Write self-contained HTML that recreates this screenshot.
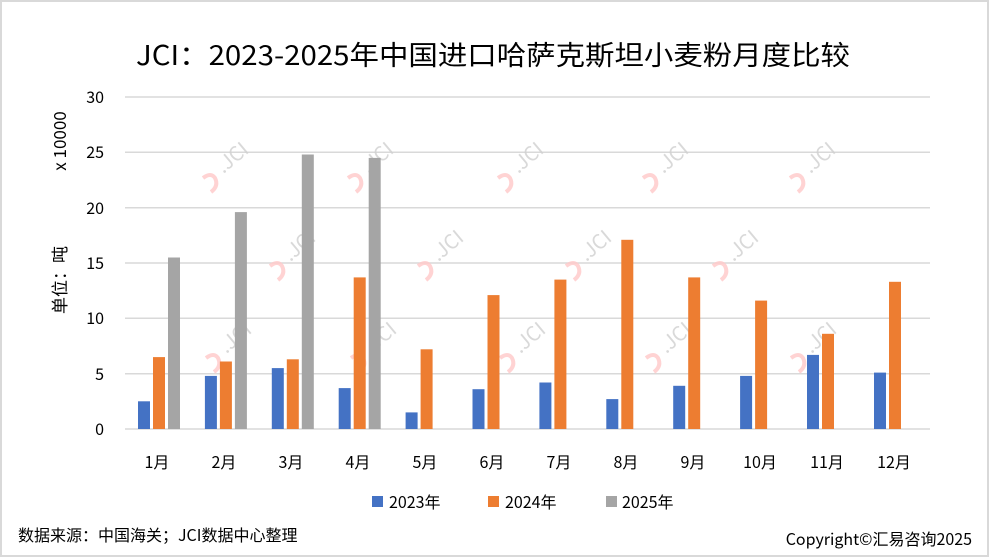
<!DOCTYPE html>
<html><head><meta charset="utf-8"><style>
html,body{margin:0;padding:0;background:#fff}
svg{display:block;font-family:"Noto Sans CJK SC","Liberation Sans",sans-serif}
</style></head><body>
<svg width="990" height="558" viewBox="0 0 990 558" xmlns="http://www.w3.org/2000/svg">
<rect x="1" y="1" width="987" height="555" fill="#fff" stroke="#d9d9d9" stroke-width="2"/>
<text x="493" y="65" font-size="27" text-anchor="middle" textLength="714" lengthAdjust="spacingAndGlyphs" fill="#000">JCI：2023-2025年中国进口哈萨克斯坦小麦粉月度比较</text>
<g stroke="#d9d9d9" stroke-width="1.5">
<line x1="125" x2="930" y1="97" y2="97"/><line x1="125" x2="930" y1="152.3" y2="152.3"/>
<line x1="125" x2="930" y1="207.7" y2="207.7"/><line x1="125" x2="930" y1="263" y2="263"/>
<line x1="125" x2="930" y1="318.3" y2="318.3"/><line x1="125" x2="930" y1="373.7" y2="373.7"/>
<line x1="125" x2="930" y1="429" y2="429"/>
</g>
<g font-size="16" fill="#000" text-anchor="end">
<text x="104" y="103">30</text><text x="104" y="158">25</text><text x="104" y="214">20</text>
<text x="104" y="269">15</text><text x="104" y="324">10</text><text x="104" y="380">5</text><text x="104" y="435">0</text>
</g>
<text transform="translate(66,141) rotate(-90)" font-size="17" text-anchor="middle">x 10000</text>
<text transform="translate(66,280) rotate(-90)" font-size="17" text-anchor="middle">单位：吨</text>
<g opacity="0.8">
<g transform="translate(225,170)"><path d="M-22,8 q8,-6 12,0 q4,8 -4,14" stroke="#ffc9c9" stroke-width="4" fill="none"/><text transform="rotate(-40)" x="-4" y="2" font-size="20" fill="#d0d0d0">.JCI</text></g>
<g transform="translate(370,170)"><path d="M-22,8 q8,-6 12,0 q4,8 -4,14" stroke="#ffc9c9" stroke-width="4" fill="none"/><text transform="rotate(-40)" x="-4" y="2" font-size="20" fill="#d0d0d0">.JCI</text></g>
<g transform="translate(520,170)"><path d="M-22,8 q8,-6 12,0 q4,8 -4,14" stroke="#ffc9c9" stroke-width="4" fill="none"/><text transform="rotate(-40)" x="-4" y="2" font-size="20" fill="#d0d0d0">.JCI</text></g>
<g transform="translate(665,170)"><path d="M-22,8 q8,-6 12,0 q4,8 -4,14" stroke="#ffc9c9" stroke-width="4" fill="none"/><text transform="rotate(-40)" x="-4" y="2" font-size="20" fill="#d0d0d0">.JCI</text></g>
<g transform="translate(812,170)"><path d="M-22,8 q8,-6 12,0 q4,8 -4,14" stroke="#ffc9c9" stroke-width="4" fill="none"/><text transform="rotate(-40)" x="-4" y="2" font-size="20" fill="#d0d0d0">.JCI</text></g>
<g transform="translate(292,258)"><path d="M-22,8 q8,-6 12,0 q4,8 -4,14" stroke="#ffc9c9" stroke-width="4" fill="none"/><text transform="rotate(-40)" x="-4" y="2" font-size="20" fill="#d0d0d0">.JCI</text></g>
<g transform="translate(440,258)"><path d="M-22,8 q8,-6 12,0 q4,8 -4,14" stroke="#ffc9c9" stroke-width="4" fill="none"/><text transform="rotate(-40)" x="-4" y="2" font-size="20" fill="#d0d0d0">.JCI</text></g>
<g transform="translate(588,258)"><path d="M-22,8 q8,-6 12,0 q4,8 -4,14" stroke="#ffc9c9" stroke-width="4" fill="none"/><text transform="rotate(-40)" x="-4" y="2" font-size="20" fill="#d0d0d0">.JCI</text></g>
<g transform="translate(735,258)"><path d="M-22,8 q8,-6 12,0 q4,8 -4,14" stroke="#ffc9c9" stroke-width="4" fill="none"/><text transform="rotate(-40)" x="-4" y="2" font-size="20" fill="#d0d0d0">.JCI</text></g>
<g transform="translate(228,350)"><path d="M-22,8 q8,-6 12,0 q4,8 -4,14" stroke="#ffc9c9" stroke-width="4" fill="none"/><text transform="rotate(-40)" x="-4" y="2" font-size="20" fill="#d0d0d0">.JCI</text></g>
<g transform="translate(373,350)"><path d="M-22,8 q8,-6 12,0 q4,8 -4,14" stroke="#ffc9c9" stroke-width="4" fill="none"/><text transform="rotate(-40)" x="-4" y="2" font-size="20" fill="#d0d0d0">.JCI</text></g>
<g transform="translate(522,350)"><path d="M-22,8 q8,-6 12,0 q4,8 -4,14" stroke="#ffc9c9" stroke-width="4" fill="none"/><text transform="rotate(-40)" x="-4" y="2" font-size="20" fill="#d0d0d0">.JCI</text></g>
<g transform="translate(668,350)"><path d="M-22,8 q8,-6 12,0 q4,8 -4,14" stroke="#ffc9c9" stroke-width="4" fill="none"/><text transform="rotate(-40)" x="-4" y="2" font-size="20" fill="#d0d0d0">.JCI</text></g>
<g transform="translate(813,350)"><path d="M-22,8 q8,-6 12,0 q4,8 -4,14" stroke="#ffc9c9" stroke-width="4" fill="none"/><text transform="rotate(-40)" x="-4" y="2" font-size="20" fill="#d0d0d0">.JCI</text></g>
</g>
<g fill="#4472c4">
<rect x="138" y="401.3" width="12" height="27.7"/>
<rect x="204.9" y="375.9" width="12" height="53.1"/>
<rect x="271.8" y="368.1" width="12" height="60.9"/>
<rect x="338.7" y="388.1" width="12" height="40.9"/>
<rect x="405.6" y="412.4" width="12" height="16.6"/>
<rect x="472.5" y="389.2" width="12" height="39.8"/>
<rect x="539.4" y="382.5" width="12" height="46.5"/>
<rect x="606.3" y="399.1" width="12" height="29.9"/>
<rect x="673.2" y="385.8" width="12" height="43.2"/>
<rect x="740.1" y="375.9" width="12" height="53.1"/>
<rect x="807" y="354.9" width="12" height="74.1"/>
<rect x="874" y="372.6" width="12" height="56.4"/>
</g>
<g fill="#ed7d31">
<rect x="153" y="357.1" width="12" height="71.9"/>
<rect x="219.9" y="361.5" width="12" height="67.5"/>
<rect x="286.8" y="359.3" width="12" height="69.7"/>
<rect x="353.7" y="277.4" width="12" height="151.6"/>
<rect x="420.6" y="349.3" width="12" height="79.7"/>
<rect x="487.5" y="295.1" width="12" height="133.9"/>
<rect x="554.4" y="279.6" width="12" height="149.4"/>
<rect x="621.3" y="239.8" width="12" height="189.2"/>
<rect x="688.2" y="277.4" width="12" height="151.6"/>
<rect x="755.1" y="300.6" width="12" height="128.4"/>
<rect x="822" y="333.8" width="12" height="95.2"/>
<rect x="889" y="281.8" width="12" height="147.2"/>
</g>
<g fill="#a5a5a5">
<rect x="168" y="257.5" width="12" height="171.5"/>
<rect x="234.9" y="212.1" width="12" height="216.9"/>
<rect x="301.8" y="154.5" width="12" height="274.5"/>
<rect x="368.7" y="157.9" width="12" height="271.1"/>
</g>
<g font-size="16" text-anchor="middle" fill="#000">
<text x="157" y="468">1月</text><text x="224" y="468">2月</text><text x="291" y="468">3月</text>
<text x="358" y="468">4月</text><text x="425" y="468">5月</text><text x="492" y="468">6月</text>
<text x="559" y="468">7月</text><text x="626" y="468">8月</text><text x="693" y="468">9月</text>
<text x="760" y="468">10月</text><text x="827" y="468">11月</text><text x="894" y="468">12月</text>
</g>
<g font-size="16" fill="#000">
<rect x="372" y="496" width="11" height="11" fill="#4472c4"/><text x="389" y="508">2023年</text>
<rect x="488" y="496" width="11" height="11" fill="#ed7d31"/><text x="505" y="508">2024年</text>
<rect x="606" y="496" width="11" height="11" fill="#a5a5a5"/><text x="622" y="508">2025年</text>
</g>
<text x="18" y="541" font-size="16" fill="#000">数据来源：中国海关；JCI数据中心整理</text>
<text x="972" y="545" font-size="16" fill="#000" text-anchor="end">Copyright©汇易咨询2025</text>
</svg>
</body></html>
